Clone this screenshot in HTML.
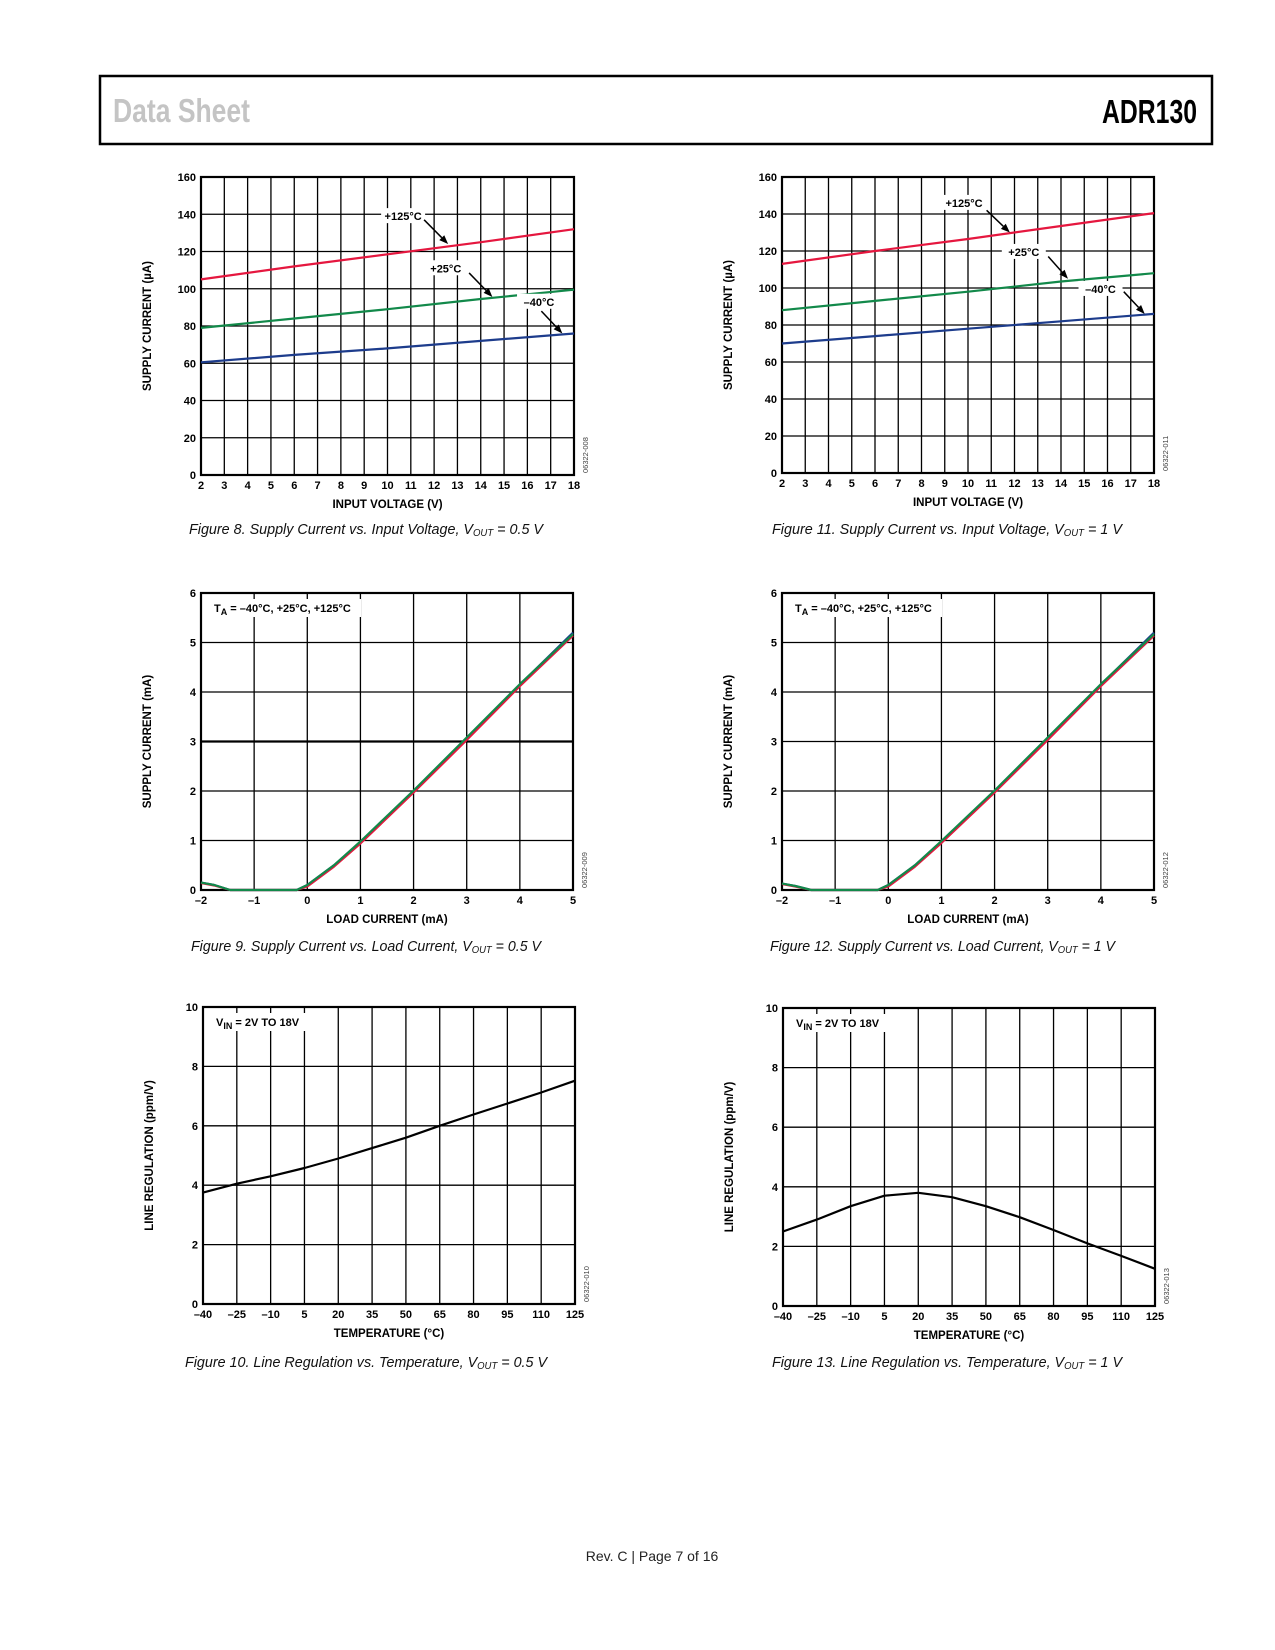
<!DOCTYPE html>
<html><head><meta charset="utf-8"><style>
html,body{margin:0;padding:0;background:#fff;}
svg{display:block;font-family:"Liberation Sans",Arial,sans-serif;}
</style></head><body>
<svg id="page" width="1275" height="1650" viewBox="0 0 1275 1650">
<rect x="100" y="76" width="1112" height="68" fill="none" stroke="#000" stroke-width="2.5"/>
<text x="113" y="122" font-family="'Liberation Sans Narrow','Liberation Sans',sans-serif" font-weight="bold" font-size="33" fill="#c4c4c4" textLength="137" lengthAdjust="spacingAndGlyphs">Data Sheet</text>
<text x="1102" y="123" font-family="'Liberation Sans Narrow','Liberation Sans',sans-serif" font-weight="bold" font-size="33" fill="#000" textLength="95" lengthAdjust="spacingAndGlyphs">ADR130</text>
<text x="652" y="1561" text-anchor="middle" font-size="14" fill="#222">Rev. C | Page 7 of 16</text>
</svg>
<script>
// ---- Data ----
const vinX = [2, 6, 10, 14, 18];
const fig8Red = [105, 112, 118.5, 125, 132];
const fig8Green = [79, 84, 89, 94.5, 99.5];
const fig8Blue = [60.5, 64.5, 68, 72, 76];
const fig11Red = [113, 120, 126.5, 133.5, 140.5];
const fig11Green = [88, 93, 98, 103.5, 108];
const fig11Blue = [70, 74, 78, 82, 86];
const loadX = [-2, -1.75, -1.45, -0.2, 0, 0.5, 1, 2, 3, 4, 5];
const fig9Blue = [0.15, 0.1, 0, 0, 0.1, 0.5, 0.97, 2.0, 3.07, 4.15, 5.2];
const fig9Red = [0.14, 0.09, 0, 0, 0.07, 0.47, 0.94, 1.97, 3.03, 4.12, 5.14];
const fig9Green = [0.15, 0.1, 0, 0, 0.1, 0.5, 0.98, 2.01, 3.08, 4.16, 5.17];
const fig12Blue = [0.13, 0.08, 0, 0, 0.1, 0.5, 0.98, 2.0, 3.07, 4.15, 5.2];
const fig12Red = [0.12, 0.07, 0, 0, 0.07, 0.47, 0.95, 1.97, 3.03, 4.12, 5.14];
const fig12Green = [0.13, 0.08, 0, 0, 0.1, 0.5, 0.99, 2.01, 3.08, 4.16, 5.17];
const tempX = [-40, -25, -10, 5, 20, 35, 50, 65, 80, 95, 110, 125];
const fig10Line = [3.75, 4.05, 4.3, 4.58, 4.9, 5.25, 5.6, 6.0, 6.38, 6.75, 7.12, 7.52];
const fig13Line = [2.5, 2.9, 3.35, 3.7, 3.8, 3.65, 3.35, 2.98, 2.55, 2.1, 1.68, 1.25];
const vinTicks = [2,3,4,5,6,7,8,9,10,11,12,13,14,15,16,17,18];
const uaTicks = [0,20,40,60,80,100,120,140,160];
const loadTicks = [-2,-1,0,1,2,3,4,5];
const maTicks = [0,1,2,3,4,5,6];
const tempTicks = [-40,-25,-10,5,20,35,50,65,80,95,110,125];
const lrTicks = [0,2,4,6,8,10];
// annotation: [labelX, labelY, tailX, tailY, headX, headY] in data units
const fig8Notes = [["+125°C",10.67,139,11.57,137,12.6,124],["+25°C",12.5,111,13.5,108.5,14.5,95.6],["–40°C",16.5,93,16.6,88,17.5,76]];
const fig11Notes = [["+125°C",9.83,146,10.8,142,11.8,130],["+25°C",12.4,119.5,13.45,117,14.3,105],["–40°C",15.7,99.5,16.7,98,17.6,86]];

const NS = "http://www.w3.org/2000/svg";
const page = document.getElementById('page');
const RED = "#e5173f", GREEN = "#12894a", BLUE = "#1d3c8c";
function el(tag, attrs, parent, txt){
  const e = document.createElementNS(NS, tag);
  for (const k in attrs) e.setAttribute(k, attrs[k]);
  if (txt !== undefined) e.textContent = txt;
  parent.appendChild(e); return e;
}
function fmt(v){ return v < 0 ? "–" + Math.abs(v) : String(v); }

function chart(c){
  const g = el('g', {}, page);
  
  
  const sx = v => c.x0 + (v - c.xmin) / (c.xmax - c.xmin) * (c.x1 - c.x0);
  const sy = v => c.y1 - (v - c.ymin) / (c.ymax - c.ymin) * (c.y1 - c.y0);
  // grid
  c.xt.forEach(v => {
    const l = el('line', {x1:sx(v), x2:sx(v), y1:c.y0, y2:c.y1, stroke:"#000", "stroke-width":1.3}, g);
    
    
    const t = el('text', {x:sx(v), y:c.y1+14, "text-anchor":"middle", "font-size":11, "font-weight":"bold"}, g, fmt(v));
    
    
  });
  c.yt.forEach(v => {
    const l = el('line', {x1:c.x0, x2:c.x1, y1:sy(v), y2:sy(v), stroke:"#000", "stroke-width":(c.bold===v?2.2:1.3)}, g);
    
    
    const t = el('text', {x:c.x0-5, y:sy(v)+4, "text-anchor":"end", "font-size":11, "font-weight":"bold"}, g, fmt(v));
    
    
  });
  const fr = el('rect', {x:c.x0, y:c.y0, width:c.x1-c.x0, height:c.y1-c.y0, fill:"none", stroke:"#000", "stroke-width":2.2}, g);
  
  
  // series
  c.series.forEach(s => {
    const d = s.y.map((v,i) => (i?"L":"M") + sx(s.x[i]).toFixed(1) + "," + sy(v).toFixed(1)).join(" ");
    const p = el('path', {d:d, fill:"none", stroke:s.color, "stroke-width":2.2, "stroke-linejoin":"round"}, g);
    
    
  });
  // annotations
  (c.notes||[]).forEach(n => {
    const lx = sx(n[1]), ly = sy(n[2]);
    const bg = el('rect', {x:lx-22, y:ly-8, width:44, height:15, fill:"#fff"}, g);
    
    
    const t = el('text', {x:lx, y:ly+4, "text-anchor":"middle", "font-size":11, "font-weight":"bold"}, g, n[0]);
    
    
    const x1 = sx(n[3]), y1 = sy(n[4]), x2 = sx(n[5]), y2 = sy(n[6]);
    const ang = Math.atan2(y2-y1, x2-x1);
    const bx = x2 - 9*Math.cos(ang), by = y2 - 9*Math.sin(ang);
    const ln = el('line', {x1:x1, y1:y1, x2:bx, y2:by, stroke:"#000", "stroke-width":1.5}, g);
    
    
    const px = -Math.sin(ang)*3.5, py = Math.cos(ang)*3.5;
    const hd = el('polygon', {points:`${x2},${y2} ${bx+px},${by+py} ${bx-px},${by-py}`, fill:"#000"}, g);
    
    
  });
  if (c.inset){
    const bg = el('rect', {x:c.x0+10, y:c.y0+6, width:c.insetW, height:18, fill:"#fff"}, g);
    
    
    const t = el('text', {x:c.x0+13, y:c.y0+19, "font-size":11, "font-weight":"bold"}, g);
    
    
    el('tspan', {}, t, c.inset[0]);
    el('tspan', {"font-size":9, dy:3}, t, c.inset[1]);
    el('tspan', {dy:-3}, t, c.inset[2]);
  }
  // axis titles
  const xt = el('text', {x:(c.x0+c.x1)/2, y:c.y1+33, "text-anchor":"middle", "font-size":11.5, "font-weight":"bold"}, g, c.xtitle);
  
  
  const yx = c.x0 - 50, yy = (c.y0+c.y1)/2;
  const yt = el('text', {x:yx, y:yy, "text-anchor":"middle", "font-size":11.5, "font-weight":"bold", transform:`rotate(-90 ${yx} ${yy})`}, g, c.ytitle);
  
  
  const cx = c.x1 + 14, cy = c.y1 - 2;
  const code = el('text', {x:cx, y:cy, "font-size":7.5, fill:"#444", transform:`rotate(-90 ${cx} ${cy})`}, g, c.code);
  
  
  // caption
  const cap = el('text', {x:c.capX, y:c.capY, "font-size":15, "font-style":"italic", fill:"#111", textLength:c.capW, lengthAdjust:"spacingAndGlyphs"}, g);
  
  
  el('tspan', {}, cap, c.cap[0]);
  el('tspan', {"font-size":10, dy:2}, cap, "OUT");
  el('tspan', {dy:-2}, cap, c.cap[1]);
}

function tri(x, a, b, cc){ return [{x:x,y:a,color:BLUE,name:'series-minus40c'},{x:x,y:b,color:RED,name:'series-plus125c'},{x:x,y:cc,color:GREEN,name:'series-plus25c'}]; }

chart({name:'fig8-chart', x0:201,x1:574,y0:177,y1:475, xmin:2,xmax:18,ymin:0,ymax:160, xt:vinTicks, yt:uaTicks,
  series:[{x:vinX,y:fig8Red,color:RED,name:'series-plus125c'},{x:vinX,y:fig8Green,color:GREEN,name:'series-plus25c'},{x:vinX,y:fig8Blue,color:BLUE,name:'series-minus40c'}],
  notes:fig8Notes, xtitle:"INPUT VOLTAGE (V)", ytitle:"SUPPLY CURRENT (µA)", code:"06322-008",
  cap:["Figure 8. Supply Current vs. Input Voltage, V"," = 0.5 V"], capX:189, capY:534, capW:354});
chart({name:'fig11-chart', x0:782,x1:1154,y0:177,y1:473, xmin:2,xmax:18,ymin:0,ymax:160, xt:vinTicks, yt:uaTicks,
  series:[{x:vinX,y:fig11Red,color:RED,name:'series-plus125c'},{x:vinX,y:fig11Green,color:GREEN,name:'series-plus25c'},{x:vinX,y:fig11Blue,color:BLUE,name:'series-minus40c'}],
  notes:fig11Notes, xtitle:"INPUT VOLTAGE (V)", ytitle:"SUPPLY CURRENT (µA)", code:"06322-011",
  cap:["Figure 11. Supply Current vs. Input Voltage, V"," = 1 V"], capX:772, capY:534, capW:350});
chart({name:'fig9-chart', x0:201,x1:573,y0:593,y1:890, xmin:-2,xmax:5,ymin:0,ymax:6, xt:loadTicks, yt:maTicks, bold:3,
  series:tri(loadX, fig9Blue, fig9Red, fig9Green), inset:["T","A"," = –40°C, +25°C, +125°C"], insetW:150,
  xtitle:"LOAD CURRENT (mA)", ytitle:"SUPPLY CURRENT (mA)", code:"06322-009",
  cap:["Figure 9. Supply Current vs. Load Current, V"," = 0.5 V"], capX:191, capY:951, capW:350});
chart({name:'fig12-chart', x0:782,x1:1154,y0:593,y1:890, xmin:-2,xmax:5,ymin:0,ymax:6, xt:loadTicks, yt:maTicks,
  series:tri(loadX, fig12Blue, fig12Red, fig12Green), inset:["T","A"," = –40°C, +25°C, +125°C"], insetW:150,
  xtitle:"LOAD CURRENT (mA)", ytitle:"SUPPLY CURRENT (mA)", code:"06322-012",
  cap:["Figure 12. Supply Current vs. Load Current, V"," = 1 V"], capX:770, capY:951, capW:345});
chart({name:'fig10-chart', x0:203,x1:575,y0:1007,y1:1304, xmin:-40,xmax:125,ymin:0,ymax:10, xt:tempTicks, yt:lrTicks,
  series:[{x:tempX,y:fig10Line,color:"#000",name:'series-line-regulation'}], inset:["V","IN"," = 2V TO 18V"], insetW:100,
  xtitle:"TEMPERATURE (°C)", ytitle:"LINE REGULATION (ppm/V)", code:"06322-010",
  cap:["Figure 10. Line Regulation vs. Temperature, V"," = 0.5 V"], capX:185, capY:1367, capW:362});
chart({name:'fig13-chart', x0:783,x1:1155,y0:1008,y1:1306, xmin:-40,xmax:125,ymin:0,ymax:10, xt:tempTicks, yt:lrTicks,
  series:[{x:tempX,y:fig13Line,color:"#000",name:'series-line-regulation'}], inset:["V","IN"," = 2V TO 18V"], insetW:100,
  xtitle:"TEMPERATURE (°C)", ytitle:"LINE REGULATION (ppm/V)", code:"06322-013",
  cap:["Figure 13. Line Regulation vs. Temperature, V"," = 1 V"], capX:772, capY:1367, capW:350});
</script>
</body></html>
